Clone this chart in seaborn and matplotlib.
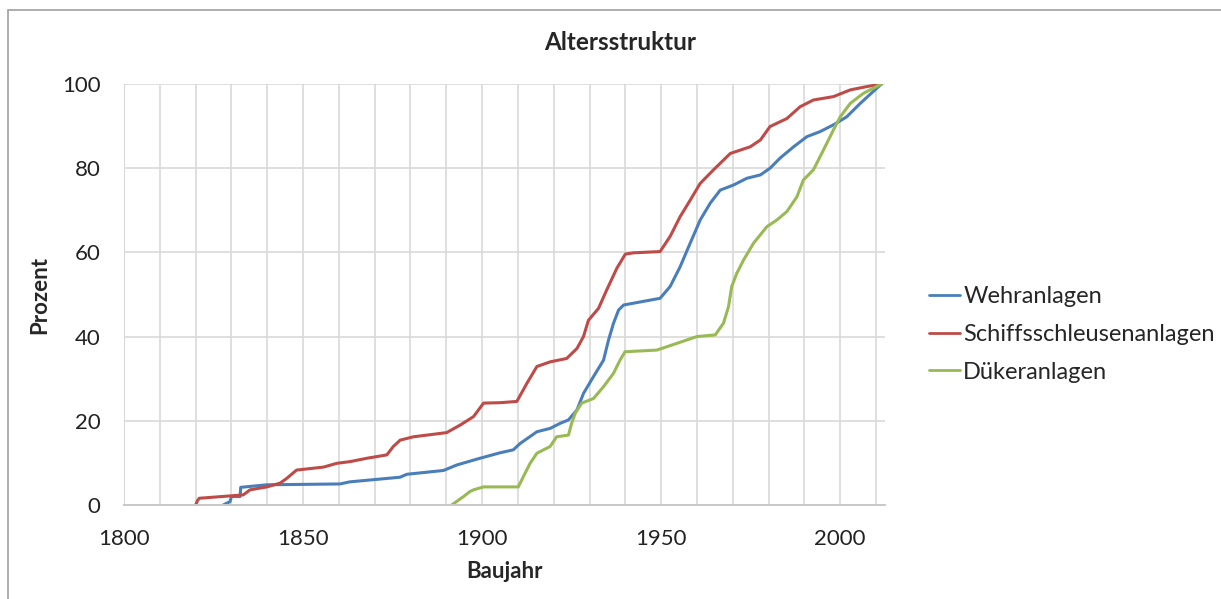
import numpy as np
import pandas as pd
import matplotlib
matplotlib.use("Agg")
import matplotlib.pyplot as plt
from matplotlib.patches import Rectangle
import seaborn as sns

# cumulative share (%) of structures built up to a given year
wehr_jahr = [1827.7, 1829.6, 1830, 1832.4, 1832.6, 1839.9, 1860.3, 1863.1, 1877.1, 1879.0,
             1889.2, 1892.9, 1899.4, 1905, 1908.7, 1910.6, 1915.3, 1919.0, 1921.8, 1924.1,
             1926.5, 1928.3, 1931.1, 1933.9, 1935.3, 1936.7, 1938.1, 1939.5, 1949.7, 1952.5,
             1955.3, 1958.1, 1960.9, 1963.7, 1966.5, 1970.2, 1973.9, 1977.7, 1980.4, 1983.2,
             1987.0, 1990.7, 1994.4, 1998.1, 2001.8, 2005.6, 2011.5]
wehr_pct = [0, 0.8, 2.0, 2.0, 4.2, 4.8, 5.0, 5.5, 6.6, 7.3,
            8.2, 9.5, 11.1, 12.4, 13.1, 14.6, 17.4, 18.2, 19.4, 20.2,
            22.6, 26.5, 30.5, 34.4, 39.2, 43.2, 46.3, 47.5, 49.1, 51.9,
            56.6, 62.2, 67.7, 71.7, 74.8, 76.0, 77.6, 78.4, 80.0, 82.4,
            85.1, 87.5, 88.7, 90.3, 92.2, 95.4, 100]

schleuse_jahr = [1820, 1820.5, 1821, 1833.3, 1835.2, 1839.9, 1843.6, 1845.4, 1848.2, 1855.7,
                 1859.4, 1863.1, 1867.8, 1873.4, 1875.2, 1877.1, 1880.8, 1888.3, 1890.1, 1893.9,
                 1897.6, 1900.4, 1905, 1909.7, 1912.5, 1915.3, 1919.0, 1923.6, 1926.5, 1928.3,
                 1929.7, 1932.5, 1934.8, 1937.6, 1940, 1942.3, 1949.7, 1952.5, 1955.3, 1958.1,
                 1960.9, 1964.6, 1969.3, 1974.9, 1977.7, 1980.4, 1985.1, 1988.8, 1992.5, 1998.1,
                 2002.8, 2007.5, 2011.5]
schleuse_pct = [0, 1.0, 1.6, 2.4, 3.6, 4.3, 5.2, 6.3, 8.3, 9.0,
                9.9, 10.3, 11.1, 11.9, 13.9, 15.4, 16.2, 17.0, 17.2, 19.0,
                21.0, 24.2, 24.3, 24.6, 28.9, 32.9, 34.0, 34.8, 37.2, 40.0,
                43.9, 46.7, 51.1, 56.2, 59.6, 59.9, 60.2, 63.8, 68.5, 72.4,
                76.4, 79.6, 83.5, 85.1, 86.7, 89.9, 91.8, 94.6, 96.2, 97.0,
                98.6, 99.4, 100]

dueker_jahr = [1891.5, 1894.8, 1896.6, 1897.6, 1900.4, 1910.1, 1911.5, 1913.4, 1915.3, 1919,
               1920.8, 1924.1, 1925, 1926, 1927.8, 1931.1, 1933.9, 1936.7, 1938.5, 1939.9,
               1948.8, 1954.4, 1959.9, 1965.1, 1967.4, 1968.8, 1969.7, 1971.1, 1973.0, 1975.8,
               1979.5, 1982.3, 1985.1, 1987.9, 1989.7, 1992.5, 1995.3, 1998.1, 2000, 2002.8,
               2006.5, 2011.5]
dueker_pct = [0, 2.0, 3.2, 3.6, 4.3, 4.3, 6.7, 9.9, 12.3, 13.9,
              16.2, 16.6, 19.4, 21.8, 24.2, 25.3, 28.1, 31.3, 34.4, 36.4,
              36.8, 38.4, 40.0, 40.4, 43.2, 47.1, 51.9, 55.0, 58.2, 62.2,
              66.1, 67.7, 69.7, 73.2, 77.2, 79.6, 84.3, 89.1, 92.2, 95.4,
              97.8, 100]

serien = ["Wehranlagen", "Schiffsschleusenanlagen", "Dükeranlagen"]
farben = ["#4a7ebb", "#be4b48", "#98b954"]

df = pd.concat([
    pd.DataFrame({"Baujahr": wehr_jahr, "Prozent": wehr_pct, "Art": serien[0]}),
    pd.DataFrame({"Baujahr": schleuse_jahr, "Prozent": schleuse_pct, "Art": serien[1]}),
    pd.DataFrame({"Baujahr": dueker_jahr, "Prozent": dueker_pct, "Art": serien[2]}),
])

sns.set_style("white")
plt.rcParams['font.family'] = ['Lato', 'DejaVu Sans']

fig = plt.figure(figsize=(12.21, 5.99), dpi=100)
ax = fig.add_axes([124/1221, 1-505/599, (885-124)/1221, (505-84)/599])

sns.lineplot(data=df, x="Baujahr", y="Prozent", hue="Art", hue_order=serien,
             palette=farben, sort=False, estimator=None, linewidth=2.2, ax=ax)

ax.set_xlim(1800, 2012.5)
ax.set_ylim(0, 100)
ax.set_xticks(np.arange(1800, 2001, 50))
ax.set_xticks(np.arange(1800, 2011, 10), minor=True)
ax.set_yticks(np.arange(0, 101, 20))
ax.grid(True, which="both", axis="x", color="#d9d9d9", linewidth=1.2)
ax.grid(True, which="major", axis="y", color="#d9d9d9", linewidth=1.2)
ax.set_axisbelow(True)
ax.tick_params(axis="both", which="both", length=0, labelsize=16, colors="#222222")
ax.tick_params(axis="x", pad=17)
ax.tick_params(axis="y", pad=17)
for s in ["top", "right"]:
    ax.spines[s].set_visible(False)
ax.spines["left"].set_color("#d9d9d9")
ax.spines["bottom"].set_color("#c8c8c8")
ax.spines["bottom"].set_linewidth(1.4)

ax.set_xlabel("Baujahr", fontsize=16, fontweight="bold", labelpad=9)
ax.set_ylabel("Prozent", fontsize=16, fontweight="bold", labelpad=8)
fig.text(620/1221, 1-42/599, "Altersstruktur", fontsize=17.5, fontweight="bold",
         ha="center", va="center")

leg = ax.legend(loc="center left", bbox_to_anchor=(1.03, 0.405), frameon=False,
                fontsize=17, handlelength=1.3, handletextpad=0.15, labelspacing=0.7)
for line in leg.get_lines():
    line.set_linewidth(2)

# outer chart frame
fig.patches.append(Rectangle((8/1221, -0.1), 1.2, 1-10/599+0.1, transform=fig.transFigure,
                             fill=False, edgecolor="#a0a0a0", linewidth=1.2))

fig.savefig("out.png", dpi=100)
